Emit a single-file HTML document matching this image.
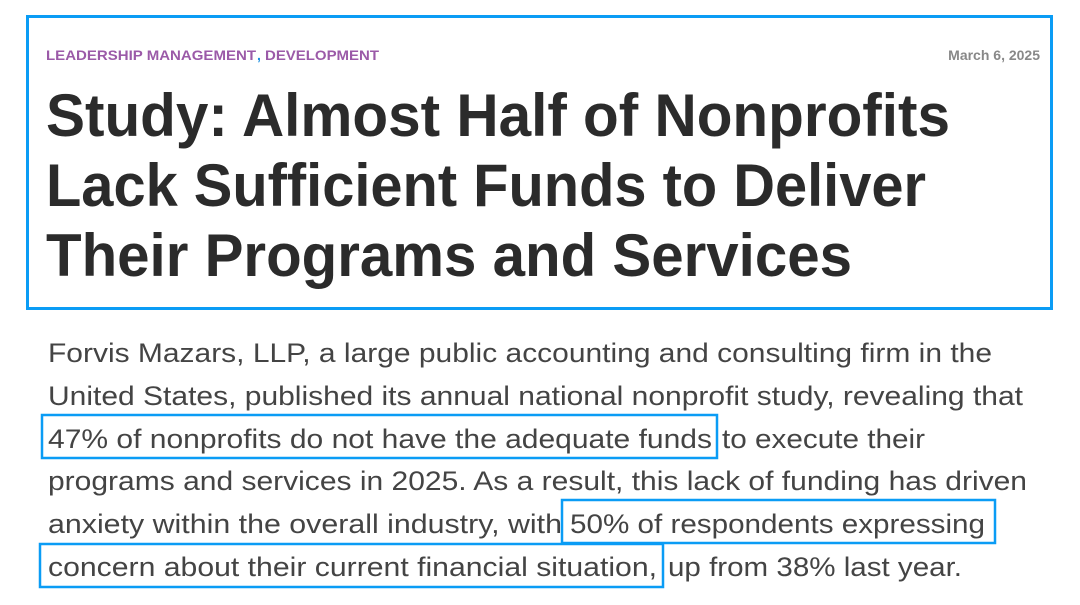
<!DOCTYPE html>
<html><head><meta charset="utf-8"><style>
html,body{margin:0;padding:0;background:#fff;}
svg{display:block}
</style></head><body>
<svg width="1080" height="605" viewBox="0 0 1080 605" xmlns="http://www.w3.org/2000/svg">
<rect x="0" y="0" width="1080" height="605" fill="#fff"/>
<rect x="27.5" y="16.5" width="1024" height="292" fill="none" stroke="#0a9cf5" stroke-width="3"/>
<g font-family="Liberation Sans, sans-serif" font-weight="bold" font-size="14">
<text x="46" y="60" fill="#9b5aa8" textLength="210" lengthAdjust="spacingAndGlyphs">LEADERSHIP MANAGEMENT</text>
<text x="257" y="60" fill="#1a8fe0">,</text>
<text x="265" y="60" fill="#9b5aa8" textLength="114" lengthAdjust="spacingAndGlyphs">DEVELOPMENT</text>
<text x="1040" y="60" fill="#888" text-anchor="end">March 6, 2025</text>
</g>
<g font-family="Liberation Sans, sans-serif" font-weight="bold" font-size="60" fill="#2b2b2b">
<text x="46" y="136" textLength="904" lengthAdjust="spacingAndGlyphs">Study: Almost Half of Nonprofits</text>
<text x="46" y="206" textLength="880" lengthAdjust="spacingAndGlyphs">Lack Sufficient Funds to Deliver</text>
<text x="46" y="276" textLength="806" lengthAdjust="spacingAndGlyphs">Their Programs and Services</text>
</g>
<g font-family="Liberation Sans, sans-serif" font-size="27" fill="#444">
<text x="48" y="362" textLength="944" lengthAdjust="spacingAndGlyphs">Forvis Mazars, LLP, a large public accounting and consulting firm in the</text>
<text x="48" y="405" textLength="975" lengthAdjust="spacingAndGlyphs">United States, published its annual national nonprofit study, revealing that</text>
<text x="48" y="448" textLength="664" lengthAdjust="spacingAndGlyphs">47% of nonprofits do not have the adequate funds</text>
<text x="722" y="448" textLength="203" lengthAdjust="spacingAndGlyphs">to execute their</text>
<text x="48" y="490" textLength="979" lengthAdjust="spacingAndGlyphs">programs and services in 2025. As a result, this lack of funding has driven</text>
<text x="48" y="533" textLength="514" lengthAdjust="spacingAndGlyphs">anxiety within the overall industry, with</text>
<text x="570" y="533" textLength="415" lengthAdjust="spacingAndGlyphs">50% of respondents expressing</text>
<text x="48" y="576" textLength="609" lengthAdjust="spacingAndGlyphs">concern about their current financial situation,</text>
<text x="668" y="576" textLength="294" lengthAdjust="spacingAndGlyphs">up from 38% last year.</text>
</g>
<g fill="none" stroke="#0a9cf5" stroke-width="2.5">
<rect x="42" y="415" width="675" height="43"/>
<rect x="562" y="500" width="433" height="43"/>
<rect x="40" y="544" width="623" height="43"/>
</g>
</svg>
</body></html>
